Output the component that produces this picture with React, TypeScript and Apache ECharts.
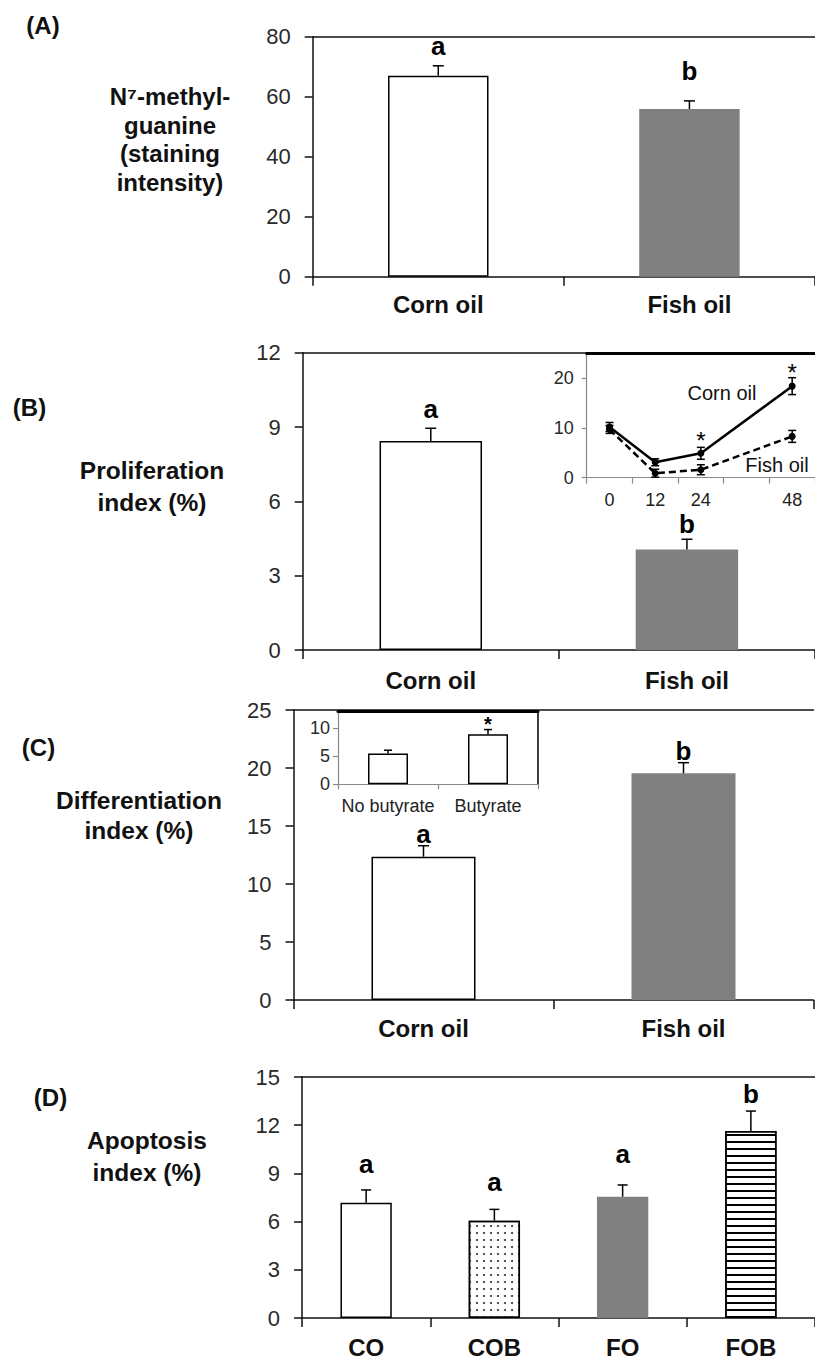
import React, { useEffect, useRef } from 'react';
import * as echarts from 'echarts';

// ---------- data ----------
const A_CATS = ['Corn oil', 'Fish oil'];
const A_MEAN = [67.0, 55.9];
const A_ERR = [3.3, 2.7];
const A_LETTERS = ['a', 'b'];

const B_CATS = ['Corn oil', 'Fish oil'];
const B_MEAN = [8.44, 4.06];
const B_ERR = [0.51, 0.41];
const B_LETTERS = ['a', 'b'];

const BI_TIME = ['0', '12', '24', '', '48'];
const BI_CORN = [10.2, 3.1, 4.9, null, 18.4];
const BI_CORN_ERR = [0.9, 0.7, 1.2, null, 1.7];
const BI_FISH = [9.7, 0.9, 1.6, null, 8.3];
const BI_FISH_ERR = [0.8, 0.8, 1.0, null, 1.2];
const BI_SIG = ['', '', '*', '', '*'];

const C_CATS = ['Corn oil', 'Fish oil'];
const C_MEAN = [12.35, 19.54];
const C_ERR = [0.95, 0.92];
const C_LETTERS = ['a', 'b'];

const CI_CATS = ['No butyrate', 'Butyrate'];
const CI_MEAN = [5.5, 8.98];
const CI_ERR = [0.6, 0.82];
const CI_SIG = ['', '*'];

const D_CATS = ['CO', 'COB', 'FO', 'FOB'];
const D_MEAN = [7.18, 6.06, 7.55, 11.64];
const D_ERR = [0.79, 0.7, 0.73, 1.24];
const D_LETTERS = ['a', 'a', 'a', 'b'];

// ---------- styles ----------
const FONT = '"Liberation Sans", Arial, Helvetica, sans-serif';
const INK = '#111';
const GRAY_AX = '#8a8a8a';

const WHITE = { color: '#fff', borderColor: '#000', borderWidth: 1.5 };
const GRAYBAR = { color: '#808080', borderColor: '#808080', borderWidth: 0 };
const DOTS = {
  color: '#fff', borderColor: '#000', borderWidth: 1.5,
  decal: { symbol: 'circle', symbolSize: 1, dashArrayX: [1.6, 4.9], dashArrayY: [1.6, 4.9], color: '#333' },
};
const STRIPES = {
  color: '#fff', borderColor: '#000', borderWidth: 1.5,
  decal: { symbol: 'rect', symbolSize: 1, dashArrayX: [1, 0], dashArrayY: [1.4, 4.9], color: '#000' },
};

function catX(g: number, cats: string[], o: any = {}) {
  return {
    type: 'category', gridIndex: g, data: cats,
    axisLine: { show: true, lineStyle: { color: o.lineColor || INK, width: o.lw || 1.5 } },
    axisTick: { show: true, length: o.tickLen || 9, lineStyle: { color: o.lineColor || INK, width: o.lw || 1.5 } },
    axisLabel: {
      interval: 0, margin: o.margin ?? 16, fontSize: o.fs || 24, fontWeight: o.bold === false ? 'normal' : 'bold',
      color: o.labelColor || INK, fontFamily: FONT,
    },
    splitLine: { show: false },
  };
}
function topX(g: number, cats: string[], lw = 1.5, color = INK) {
  return {
    type: 'category', gridIndex: g, data: cats, position: 'top',
    axisLine: { show: true, onZero: false, lineStyle: { color, width: lw } },
    axisTick: { show: false }, axisLabel: { show: false }, splitLine: { show: false },
  };
}
function valY(g: number, min: number, max: number, interval: number, o: any = {}) {
  return {
    type: 'value', gridIndex: g, min, max, interval,
    axisLine: { show: true, lineStyle: { color: o.lineColor || INK, width: o.lw || 1.5 } },
    axisTick: { show: true, length: o.tickLen || 8, lineStyle: { color: o.lineColor || INK, width: o.lw || 1.5 } },
    axisLabel: { margin: o.margin ?? 22, fontSize: o.fs || 22, color: '#2a2a2a', fontFamily: FONT, showMaxLabel: o.showMax !== false },
    splitLine: { show: false },
  };
}
function bars(xi: number, yi: number, means: number[], styles: any[]) {
  return {
    type: 'bar', xAxisIndex: xi, yAxisIndex: yi, barWidth: '40%', silent: true, z: 2,
    data: means.map((v, i) => ({ value: v, itemStyle: styles[i] })),
  };
}
function errs(xi: number, yi: number, means: (number | null)[], er: (number | null)[], o: any) {
  const data: number[][] = [];
  means.forEach((m, i) => { if (m != null && er[i] != null) data.push([i, m, er[i] as number]); });
  const cap = o.cap || 10;
  const lw = o.lw || 1.5;
  return {
    type: 'custom', xAxisIndex: xi, yAxisIndex: yi, silent: true, z: 6, data,
    renderItem: (params: any, api: any) => {
      const i = api.value(0), m = api.value(1), e = api.value(2);
      const mid = api.coord([i, m]);
      const top = api.coord([i, m + e]);
      const bot = api.coord([i, m - e]);
      const x = mid[0];
      const st = { stroke: '#000', lineWidth: lw };
      const ch: any[] = [
        { type: 'line', shape: { x1: x, y1: o.both ? bot[1] : mid[1], x2: x, y2: top[1] }, style: st },
        { type: 'line', shape: { x1: x - cap / 2, y1: top[1], x2: x + cap / 2, y2: top[1] }, style: st },
      ];
      if (o.both) ch.push({ type: 'line', shape: { x1: x - cap / 2, y1: bot[1], x2: x + cap / 2, y2: bot[1] }, style: st });
      if (o.labels && o.labels[i]) {
        const fs = o.fs || 26;
        const gap = o.gaps ? o.gaps[i] : 10;
        ch.push({
          type: 'text', x, y: top[1] - gap - o.shift * fs,
          style: {
            text: o.labels[i], fill: '#000', fontSize: fs, fontWeight: o.weight || 'bold', fontFamily: FONT,
            align: 'center', verticalAlign: 'middle',
          },
        });
      }
      return { type: 'group', children: ch };
    },
  };
}
function txt(text: string, x: number, y: number, fs: number, bold = true, lh?: number) {
  return {
    type: 'text', x, y, silent: true, z: 20,
    style: {
      text, fill: '#111', fontSize: fs, fontWeight: bold ? 'bold' : 'normal', fontFamily: FONT,
      lineHeight: lh || fs, align: 'center', verticalAlign: 'middle', textAlign: 'center', textVerticalAlign: 'middle',
    },
  };
}

function buildOption() {
  const grid = [
    { left: 312.7, top: 36.7, width: 508, height: 240 },          // 0 A
    { left: 302.7, top: 352.7, width: 513.4, height: 297.3 },     // 1 B
    { left: 586.7, top: 353.3, width: 231.5, height: 124.4 },     // 2 B inset
    { left: 293.5, top: 710, width: 520, height: 290 },           // 3 C
    { left: 338, top: 711.7, width: 200, height: 72.6 },          // 4 C inset
    { left: 302, top: 1077, width: 515, height: 241 },            // 5 D
  ];
  const xAxis = [
    catX(0, A_CATS), topX(0, A_CATS),                                   // 0,1
    catX(1, B_CATS, { margin: 18 }), topX(1, B_CATS),                   // 2,3
    catX(2, BI_TIME, { lineColor: GRAY_AX, lw: 1.2, tickLen: 6, fs: 18, bold: false, margin: 13, labelColor: '#222' }),
    topX(2, BI_TIME, 3, '#000'),                                        // 4,5
    catX(3, C_CATS, { margin: 16 }), topX(3, C_CATS),                   // 6,7
    catX(4, CI_CATS, { lineColor: GRAY_AX, lw: 1.2, tickLen: 5, fs: 18, bold: false, margin: 13, labelColor: '#222' }),
    topX(4, CI_CATS, 3, '#000'),                                        // 8,9
    catX(5, D_CATS, { margin: 17 }), topX(5, D_CATS),                   // 10,11
  ];
  const yAxis: any[] = [
    valY(0, 0, 80, 20),                                                 // 0
    valY(1, 0, 12, 3),                                                  // 1
    valY(2, 0, 25, 10, { lineColor: GRAY_AX, lw: 1.2, tickLen: 5, fs: 18, margin: 13, showMax: false }), // 2
    valY(3, 0, 25, 5),                                                  // 3
    valY(4, 0, 13, 5, { lineColor: GRAY_AX, lw: 1.2, tickLen: 5, fs: 18, margin: 8, showMax: false }),   // 4
    valY(5, 0, 15, 3),                                                  // 5
    {
      type: 'value', gridIndex: 4, position: 'right', min: 0, max: 13,
      axisLine: { show: true, onZero: false, lineStyle: { color: '#000', width: 1.5 } },
      axisTick: { show: false }, axisLabel: { show: false }, splitLine: { show: false },
    },                                                                  // 6
  ];
  const series: any[] = [
    bars(0, 0, A_MEAN, [WHITE, GRAYBAR]),
    errs(0, 0, A_MEAN, A_ERR, { labels: A_LETTERS, gaps: [11, 21], shift: 0.35, cap: 11 }),
    bars(2, 1, B_MEAN, [WHITE, GRAYBAR]),
    errs(2, 1, B_MEAN, B_ERR, { labels: B_LETTERS, gaps: [10, 6], shift: 0.35, cap: 11 }),
    {
      type: 'line', xAxisIndex: 4, yAxisIndex: 2, data: BI_CORN, connectNulls: true, silent: true, z: 4,
      symbol: 'circle', symbolSize: 7, lineStyle: { color: '#000', width: 2.5 }, itemStyle: { color: '#000' },
    },
    {
      type: 'line', xAxisIndex: 4, yAxisIndex: 2, data: BI_FISH, connectNulls: true, silent: true, z: 4,
      symbol: 'circle', symbolSize: 7, lineStyle: { color: '#000', width: 2.5, type: [7, 4] }, itemStyle: { color: '#000' },
    },
    errs(4, 2, BI_CORN, BI_CORN_ERR, { both: true, cap: 8, lw: 1.5, labels: BI_SIG, gaps: [0, 0, 12, 0, 10], shift: -0.2, fs: 24, weight: 'normal' }),
    errs(4, 2, BI_FISH, BI_FISH_ERR, { both: true, cap: 8, lw: 1.5 }),
    bars(6, 3, C_MEAN, [WHITE, GRAYBAR]),
    errs(6, 3, C_MEAN, C_ERR, { labels: C_LETTERS, gaps: [3, 3], shift: 0.35, cap: 11 }),
    bars(8, 4, CI_MEAN, [WHITE, WHITE]),
    errs(8, 4, CI_MEAN, CI_ERR, { labels: CI_SIG, gaps: [0, 10], shift: -0.2, fs: 20, cap: 8 }),
    bars(10, 5, D_MEAN, [WHITE, DOTS, GRAYBAR, STRIPES]),
    errs(10, 5, D_MEAN, D_ERR, { labels: D_LETTERS, gaps: [17, 18, 22, 8], shift: 0.35, cap: 10 }),
  ];
  const graphic = [
    txt('(A)', 43, 25, 24),
    txt('(B)', 29.5, 407, 24),
    txt('(C)', 38.5, 747, 24),
    txt('(D)', 50.5, 1097, 24),
    txt('N\u2077-methyl-\nguanine\n(staining\nintensity)', 170, 139.5, 24, true, 28.5),
    txt('Proliferation\nindex (%)', 152, 486, 24.5, true, 32),
    txt('Differentiation\nindex (%)', 139, 815, 24.5, true, 30),
    txt('Apoptosis\nindex (%)', 147, 1156, 24.5, true, 32),
    txt('Corn oil', 722, 393, 20, false),
    txt('Fish oil', 777, 465, 20, false),
  ];
  return {
    animation: false,
    backgroundColor: '#fff',
    grid, xAxis, yAxis, series, graphic,
  };
}

export default function App() {
  const ref = useRef<HTMLDivElement>(null);
  useEffect(() => {
    if (!ref.current) return;
    const chart = echarts.init(ref.current, undefined, { renderer: 'svg' });
    chart.setOption(buildOption() as any);
    return () => chart.dispose();
  }, []);
  return (
    <div
      ref={ref}
      style={{ position: 'absolute', left: 0, top: 0, width: 815, height: 1361, background: '#fff' }}
    />
  );
}
